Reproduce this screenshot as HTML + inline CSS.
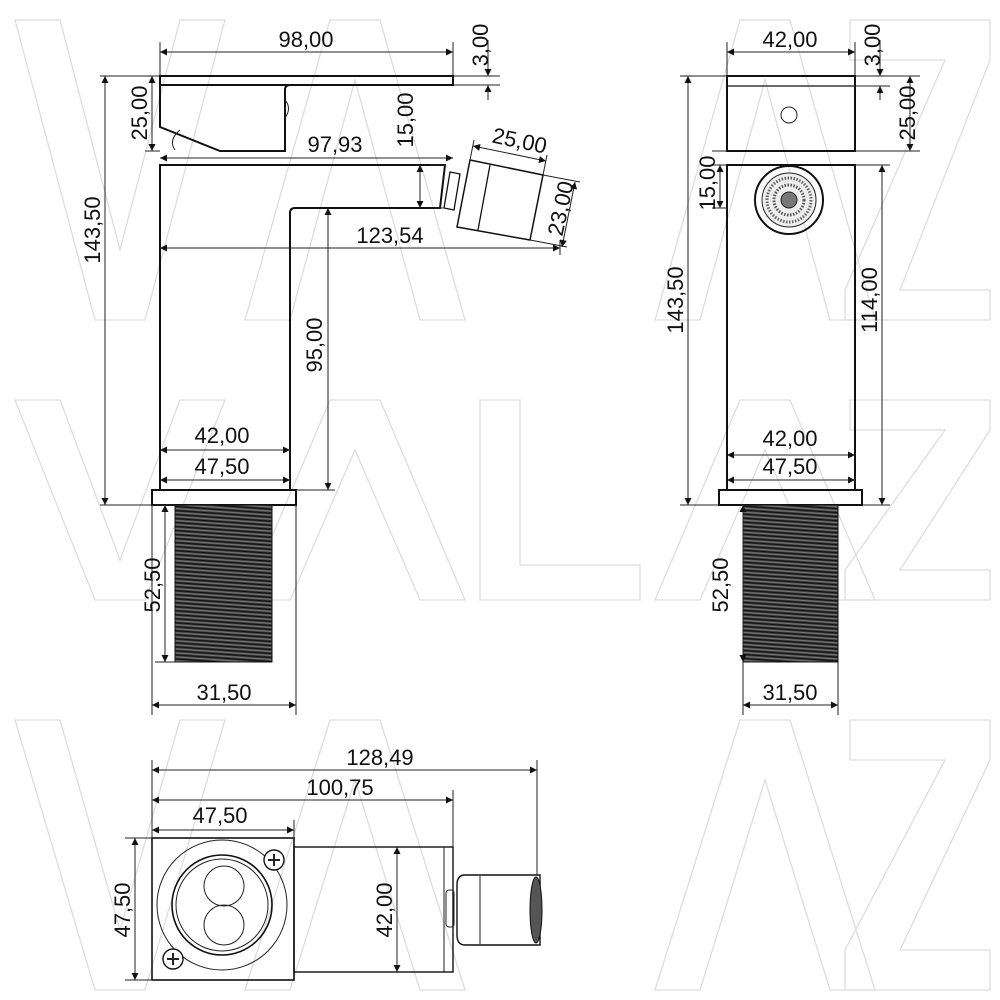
<!DOCTYPE html>
<html><head><meta charset="utf-8"><style>
html,body{margin:0;padding:0;background:#fff}
svg{display:block}
text{font-family:"Liberation Sans",sans-serif;font-size:22px;fill:#111}
.o{fill:none;stroke:#111;stroke-width:2}
.t{fill:none;stroke:#222;stroke-width:1}
.w{fill:none;stroke:#ddd;stroke-width:1.3}
</style></head><body>
<svg width="1000" height="1000" viewBox="0 0 1000 1000">
<defs>
<marker id="a" viewBox="0 0 10 10" refX="10" refY="5" markerWidth="11" markerHeight="7" orient="auto-start-reverse" markerUnits="userSpaceOnUse"><path d="M0,0 L10,5 L0,10z" fill="#111"/></marker>
<pattern id="th" width="6" height="4" patternUnits="userSpaceOnUse" patternTransform="rotate(4)"><rect width="6" height="4" fill="#4a4a4a"/><line x1="0" y1="1" x2="6" y2="1" stroke="#111" stroke-width="1.4"/><line x1="0" y1="3" x2="6" y2="3" stroke="#888" stroke-width="0.7"/></pattern>
</defs>

<!-- watermark -->
<g class="w">
<path d="M15,20 L60,20 L120,250 L180,20 L225,20 L145,320 L95,320Z"/>
<path d="M245,320 L330,20 L380,20 L465,320 L420,320 L355,80 L290,320Z"/>
<path d="M655,320 L740,20 L790,20 L875,320 L830,320 L765,80 L700,320Z"/>
<path d="M850,20 L990,20 L990,60 L900,290 L990,290 L990,320 L845,320 L845,290 L945,60 L850,60Z"/>
<path d="M15,400 L60,400 L120,560 L180,400 L225,400 L145,600 L95,600Z"/>
<path d="M245,600 L330,400 L380,400 L465,600 L420,600 L355,450 L290,600Z"/>
<path d="M480,400 L520,400 L520,565 L640,565 L640,600 L480,600Z"/>
<path d="M655,600 L740,400 L790,400 L875,600 L830,600 L765,450 L700,600Z"/>
<path d="M850,400 L990,400 L990,430 L900,570 L990,570 L990,600 L845,600 L845,570 L945,430 L850,430Z"/>
<path d="M15,720 L60,720 L120,930 L180,720 L225,720 L145,990 L95,990Z"/>
<path d="M245,990 L330,720 L380,720 L465,990 L420,990 L355,780 L290,990Z"/>
<path d="M655,990 L740,720 L790,720 L875,990 L830,990 L765,780 L700,990Z"/>
<path d="M850,720 L990,720 L990,760 L900,950 L990,950 L990,990 L845,990 L845,950 L945,760 L850,760Z"/>
</g>

<!-- LEFT VIEW -->
<rect class="o" x="160" y="76" width="293" height="9"/>
<path class="o" d="M160,85 L160,127 L220,151 L285,151 L285,90 Q285,85 290,85"/>
<path class="t" d="M285,100 Q292,108 285,118"/>
<path class="t" d="M175,150 Q168,140 180,130"/>
<path class="o" d="M160,490 L160,165 L445,165 L440,208 L295,208 Q290,208 290,213 L290,490"/>
<rect class="o" x="152" y="490" width="144" height="15"/>
<rect x="175" y="505" width="97" height="157" fill="url(#th)" stroke="#111"/>
<path class="o" d="M450,172 L460,174 L454,210 L444,208Z" style="stroke-width:1.3"/>
<path class="o" d="M470,160 L543,175 L530,240 L457,227Z" style="stroke-width:1.5"/>
<line class="o" x1="490" y1="165" x2="478" y2="230" style="stroke-width:1.3"/>

<g class="t">
<line x1="160" y1="42" x2="160" y2="76"/><line x1="453" y1="42" x2="453" y2="76"/>
<line x1="453" y1="76" x2="500" y2="76"/><line x1="453" y1="85" x2="500" y2="85"/>
<line x1="100" y1="76" x2="160" y2="76"/><line x1="100" y1="505" x2="152" y2="505"/>
<line x1="145" y1="151" x2="160" y2="151"/>
<line x1="445" y1="165" x2="430" y2="165"/><line x1="445" y1="208" x2="430" y2="208"/>
<line x1="296" y1="490" x2="335" y2="490"/>
<line x1="152" y1="505" x2="152" y2="715"/><line x1="296" y1="505" x2="296" y2="715"/>
<line x1="155" y1="662" x2="175" y2="662"/><line x1="155" y1="505" x2="175" y2="505"/>
<line x1="560" y1="240" x2="560" y2="255"/>
<line x1="470" y1="160" x2="474" y2="140"/><line x1="543" y1="175" x2="547" y2="155"/>
<line x1="543" y1="175" x2="580" y2="182"/><line x1="530" y1="240" x2="567" y2="247"/>
</g>
<g class="t" marker-start="url(#a)" marker-end="url(#a)">
<line x1="160" y1="52" x2="453" y2="52"/>
<line x1="152" y1="76" x2="152" y2="151"/>
<line x1="105" y1="76" x2="105" y2="505"/>
<line x1="160" y1="158" x2="453" y2="158"/>
<line x1="420" y1="165" x2="420" y2="208"/>
<line x1="160" y1="248" x2="560" y2="248"/>
<line x1="328" y1="208" x2="328" y2="490"/>
<line x1="160" y1="450" x2="290" y2="450"/>
<line x1="160" y1="480" x2="290" y2="480"/>
<line x1="165" y1="505" x2="165" y2="662"/>
<line x1="152" y1="705" x2="296" y2="705"/>
<line x1="473" y1="146" x2="546" y2="161"/>
<line x1="575" y1="182" x2="562" y2="247"/>
</g>
<line class="t" x1="488" y1="40" x2="488" y2="76" marker-end="url(#a)"/>
<line class="t" x1="488" y1="100" x2="488" y2="85" marker-end="url(#a)"/>
<text x="306" y="47" text-anchor="middle">98,00</text>
<text transform="translate(488,45) rotate(-90)" text-anchor="middle">3,00</text>
<text transform="translate(147,113) rotate(-90)" text-anchor="middle">25,00</text>
<text transform="translate(100,230) rotate(-90)" text-anchor="middle">143,50</text>
<text x="335" y="152" text-anchor="middle">97,93</text>
<text transform="translate(413,120) rotate(-90)" text-anchor="middle">15,00</text>
<text transform="translate(518,148) rotate(12)" text-anchor="middle">25,00</text>
<text transform="translate(568,210) rotate(-78)" text-anchor="middle">23,00</text>
<text x="390" y="243" text-anchor="middle">123,54</text>
<text transform="translate(322,345) rotate(-90)" text-anchor="middle">95,00</text>
<text x="222" y="443" text-anchor="middle">42,00</text>
<text x="222" y="474" text-anchor="middle">47,50</text>
<text transform="translate(160,585) rotate(-90)" text-anchor="middle">52,50</text>
<text x="224" y="700" text-anchor="middle">31,50</text>

<!-- RIGHT VIEW -->
<rect class="o" x="727" y="76" width="128" height="75"/>
<line class="o" x1="727" y1="86" x2="855" y2="86" style="stroke-width:1.2"/>
<circle class="t" cx="789" cy="115" r="8"/>
<rect class="o" x="727" y="165" width="128" height="325"/>
<circle class="o" cx="789" cy="200" r="34"/>
<circle cx="789" cy="200" r="27" fill="#eee" stroke="#222"/>
<circle cx="789" cy="200" r="22" fill="none" stroke="#666" stroke-width="3" stroke-dasharray="1.5 1.5"/>
<circle cx="789" cy="200" r="15" fill="none" stroke="#555" stroke-width="3" stroke-dasharray="1.5 1.5"/>
<circle cx="789" cy="200" r="8" fill="#777" stroke="#222"/>
<rect class="o" x="719" y="490" width="143" height="15"/>
<rect x="743" y="505" width="95" height="157" fill="url(#th)" stroke="#111"/>
<g class="t">
<line x1="727" y1="42" x2="727" y2="76"/><line x1="855" y1="42" x2="855" y2="76"/>
<line x1="855" y1="76" x2="920" y2="76"/><line x1="855" y1="86" x2="890" y2="86"/>
<line x1="855" y1="151" x2="920" y2="151"/><line x1="855" y1="165" x2="890" y2="165"/>
<line x1="680" y1="76" x2="727" y2="76"/><line x1="680" y1="505" x2="719" y2="505"/>
<line x1="862" y1="505" x2="890" y2="505"/>
<line x1="712" y1="165" x2="727" y2="165"/><line x1="712" y1="208" x2="727" y2="208"/><line x1="712" y1="151" x2="727" y2="151"/>
<line x1="743" y1="662" x2="743" y2="715"/><line x1="838" y1="662" x2="838" y2="715"/>
</g>
<g class="t" marker-start="url(#a)" marker-end="url(#a)">
<line x1="727" y1="52" x2="855" y2="52"/>
<line x1="910" y1="76" x2="910" y2="151"/>
<line x1="688" y1="76" x2="688" y2="505"/>
<line x1="882" y1="165" x2="882" y2="505"/>
<line x1="720" y1="165" x2="720" y2="208"/>
<line x1="727" y1="455" x2="855" y2="455"/>
<line x1="727" y1="480" x2="855" y2="480"/>
<line x1="743" y1="505" x2="743" y2="662"/>
<line x1="743" y1="705" x2="838" y2="705"/>
</g>
<line class="t" x1="880" y1="40" x2="880" y2="76" marker-end="url(#a)"/>
<line class="t" x1="880" y1="100" x2="880" y2="86" marker-end="url(#a)"/>
<text x="790" y="47" text-anchor="middle">42,00</text>
<text transform="translate(880,45) rotate(-90)" text-anchor="middle">3,00</text>
<text transform="translate(915,113) rotate(-90)" text-anchor="middle">25,00</text>
<text transform="translate(715,183) rotate(-90)" text-anchor="middle">15,00</text>
<text transform="translate(683,300) rotate(-90)" text-anchor="middle">143,50</text>
<text transform="translate(877,300) rotate(-90)" text-anchor="middle">114,00</text>
<text x="790" y="446" text-anchor="middle">42,00</text>
<text x="790" y="474" text-anchor="middle">47,50</text>
<text transform="translate(728,585) rotate(-90)" text-anchor="middle">52,50</text>
<text x="790" y="700" text-anchor="middle">31,50</text>

<!-- BOTTOM VIEW -->
<rect class="o" x="152" y="838" width="142" height="142" style="stroke-width:1.6"/>
<circle class="t" cx="222" cy="905" r="65"/>
<circle class="o" cx="222" cy="905" r="50" style="stroke-width:1.6"/>
<circle class="t" cx="222" cy="905" r="46"/>
<circle class="t" cx="224" cy="886" r="20"/>
<circle class="t" cx="224" cy="925" r="20"/>
<circle cx="274" cy="860" r="10" fill="#fff" stroke="#111" stroke-width="1.4"/>
<path class="t" d="M268,860h12M274,854v12" style="stroke-width:2"/>
<circle cx="173" cy="959" r="10" fill="#fff" stroke="#111" stroke-width="1.4"/>
<path class="t" d="M167,959h12M173,953v12" style="stroke-width:2"/>
<rect class="o" x="294" y="847" width="159" height="125" style="stroke-width:1.4"/>
<line class="t" x1="444" y1="847" x2="444" y2="972"/>
<rect class="t" x="446" y="890" width="8" height="37" rx="3"/>
<path class="o" d="M465,875 L540,875 L540,945 L465,945 Q457,945 457,935 L457,885 Q457,875 465,875Z" style="stroke-width:1.4"/>
<line class="t" x1="480" y1="876" x2="480" y2="944"/>
<ellipse cx="536" cy="910" rx="6" ry="33" fill="#555" stroke="#111"/>
<g class="t">
<line x1="152" y1="760" x2="152" y2="838"/>
<line x1="294" y1="820" x2="294" y2="838"/>
<line x1="453" y1="790" x2="453" y2="847"/>
<line x1="537" y1="760" x2="537" y2="875"/>
<line x1="125" y1="838" x2="152" y2="838"/><line x1="125" y1="980" x2="152" y2="980"/>
</g>
<g class="t" marker-start="url(#a)" marker-end="url(#a)">
<line x1="152" y1="770" x2="537" y2="770"/>
<line x1="152" y1="800" x2="453" y2="800"/>
<line x1="152" y1="830" x2="294" y2="830"/>
<line x1="135" y1="838" x2="135" y2="980"/>
<line x1="397" y1="847" x2="397" y2="972"/>
</g>
<text x="380" y="765" text-anchor="middle">128,49</text>
<text x="340" y="795" text-anchor="middle">100,75</text>
<text x="220" y="823" text-anchor="middle">47,50</text>
<text transform="translate(130,910) rotate(-90)" text-anchor="middle">47,50</text>
<text transform="translate(392,910) rotate(-90)" text-anchor="middle">42,00</text>
</svg>
</body></html>
